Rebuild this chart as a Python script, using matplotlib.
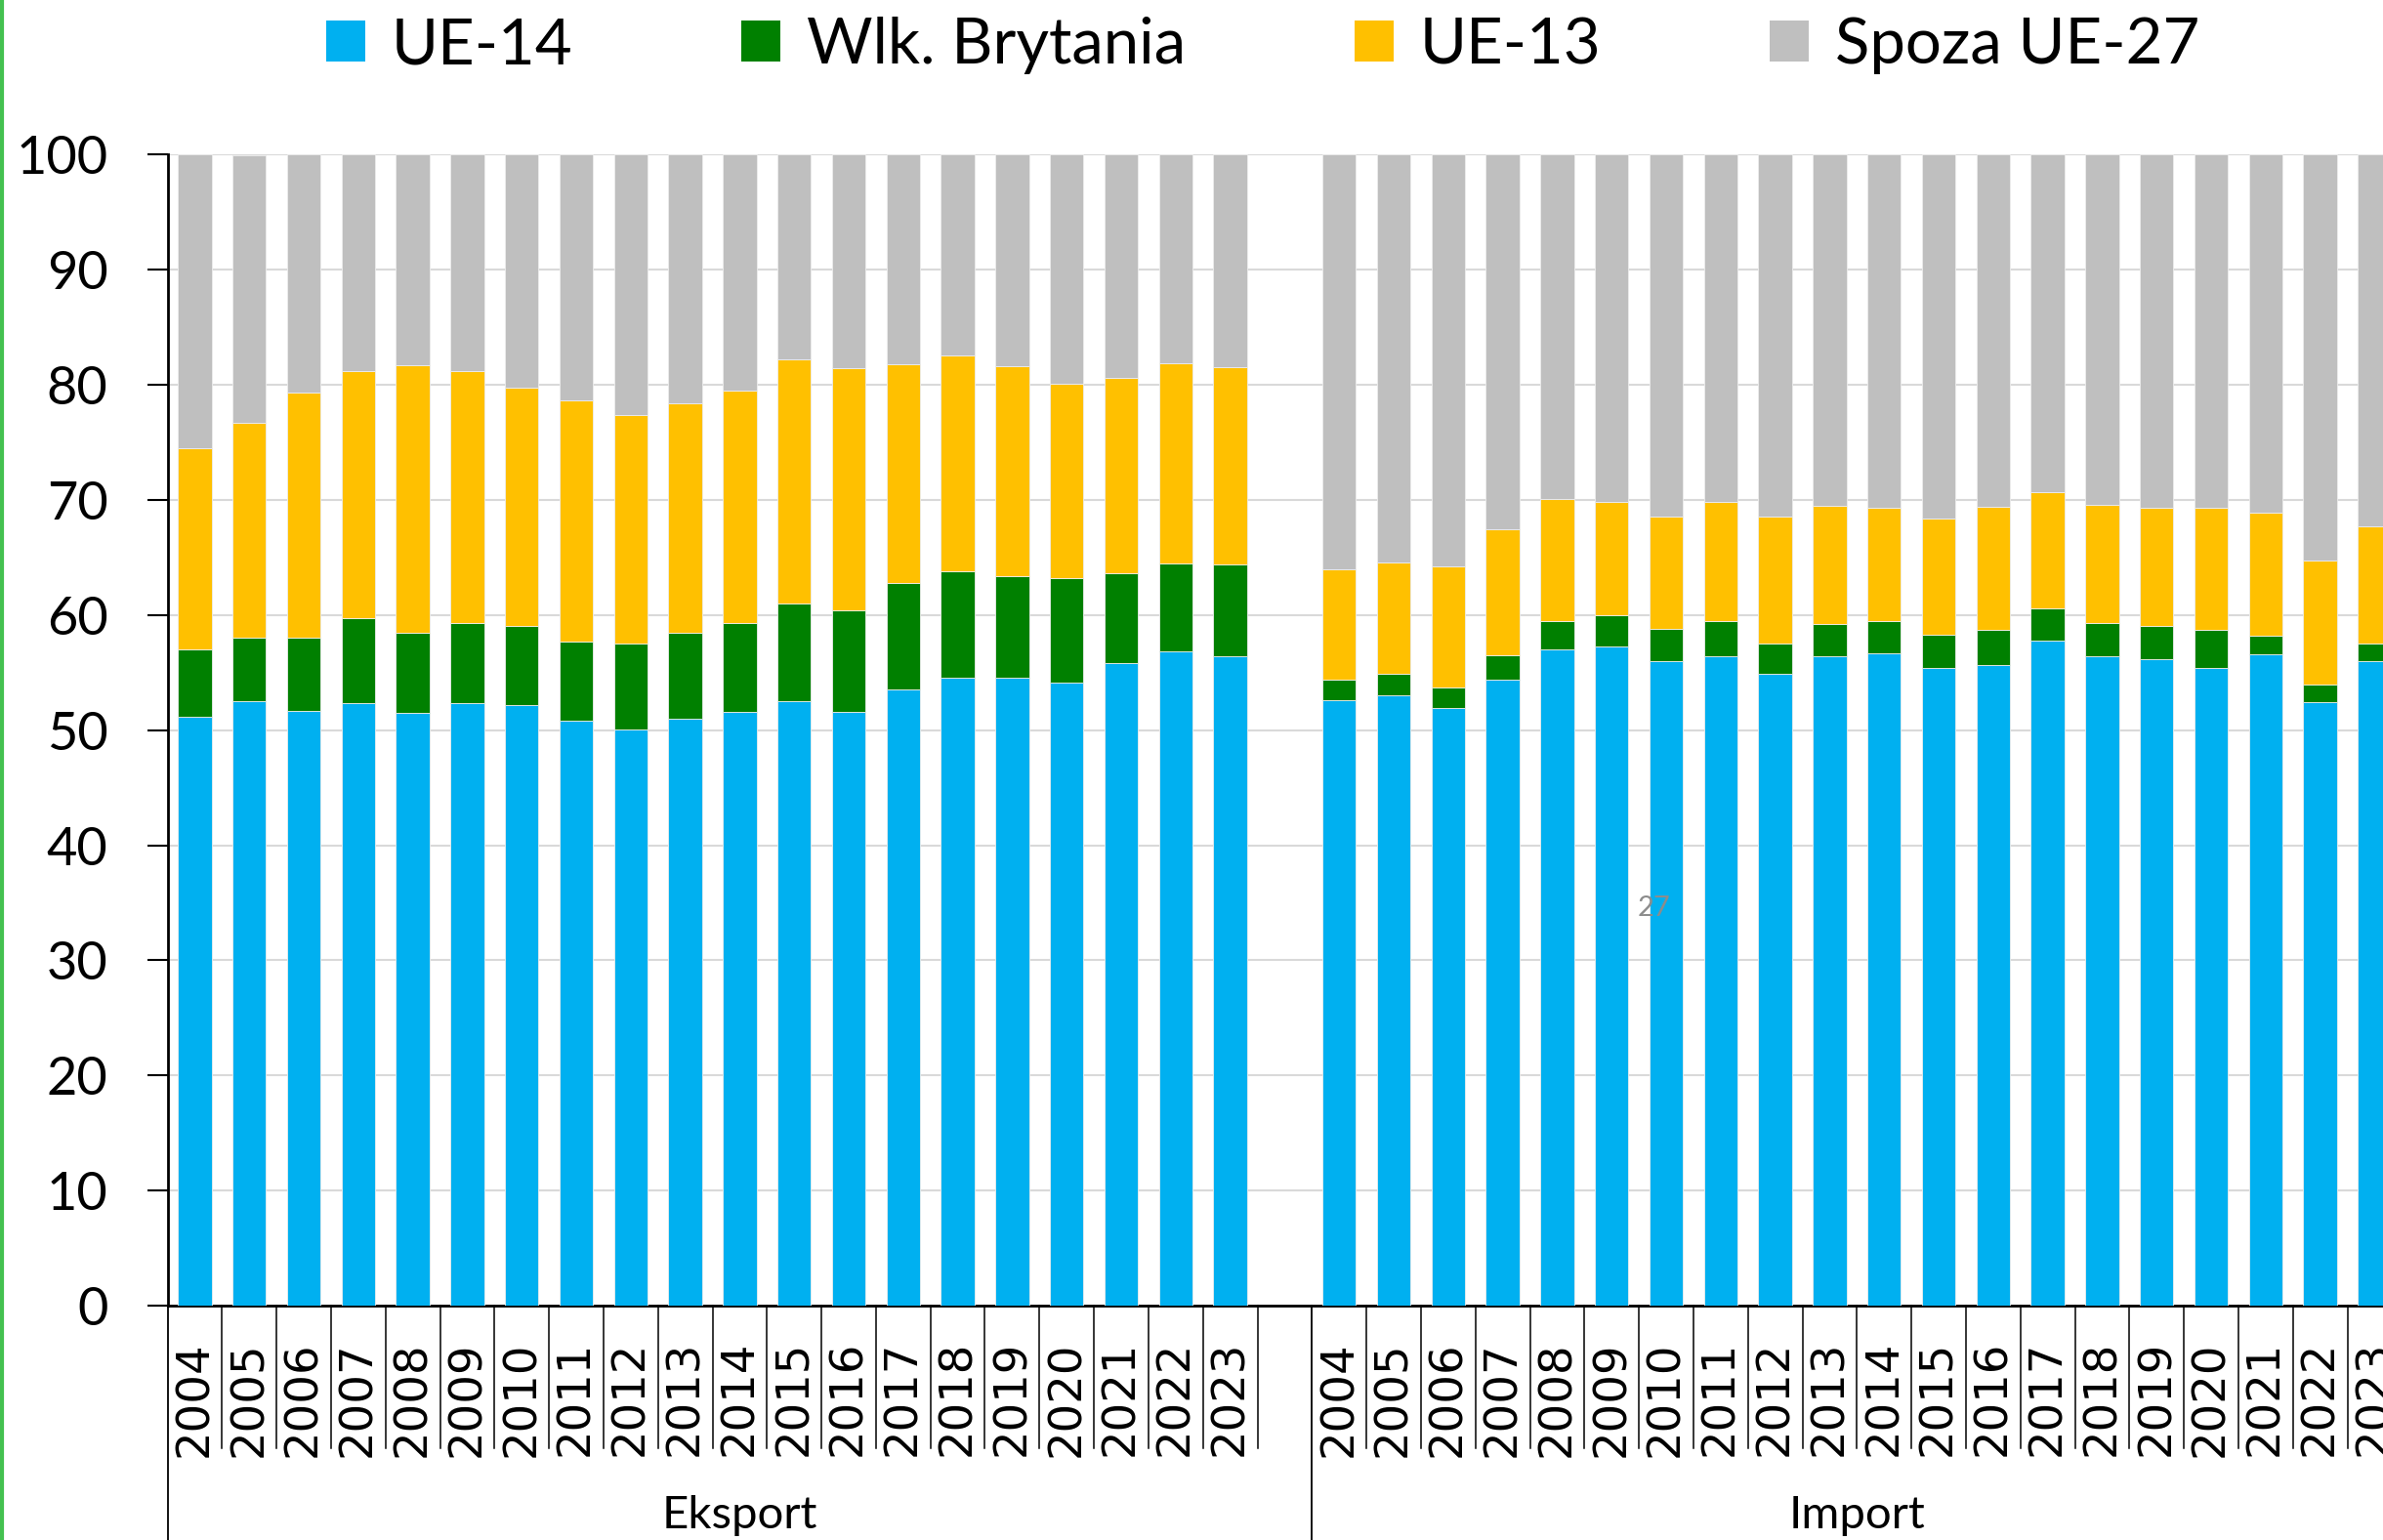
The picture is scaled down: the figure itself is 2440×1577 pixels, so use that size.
import numpy as np
import matplotlib
matplotlib.use("Agg")
import matplotlib.pyplot as plt
from matplotlib.lines import Line2D
from matplotlib.patches import Patch

# --- DATA (udział w %, odczyt z wykresu) ---
years = [str(y) for y in range(2004, 2024)]
groups = ["Eksport", "Import"]
series_names = ["UE-14", "Wlk. Brytania", "UE-13", "Spoza UE-27"]

eksport_ue14 = [51.2, 52.5, 51.7, 52.35, 51.5, 52.35, 52.2, 50.8, 50.1, 51.0,
                51.6, 52.5, 51.6, 53.55, 54.6, 54.6, 54.15, 55.8, 56.85, 56.4]
eksport_uk = [5.8, 5.55, 6.35, 7.35, 7.0, 6.95, 6.9, 6.9, 7.4, 7.5,
              7.7, 8.5, 8.8, 9.25, 9.2, 8.8, 9.05, 7.8, 7.65, 8.0]
eksport_ue13 = [17.5, 18.65, 21.25, 21.5, 23.2, 21.9, 20.7, 21.0, 19.9, 19.9,
                20.25, 21.2, 21.1, 19.0, 18.8, 18.2, 16.9, 17.0, 17.4, 17.15]
eksport_spoza = [25.5, 23.3, 20.7, 18.8, 18.3, 18.8, 20.2, 21.3, 22.6, 21.6,
                 20.45, 17.8, 18.5, 18.2, 17.4, 18.4, 19.9, 19.4, 18.1, 18.45]

import_ue14 = [52.57, 53.06, 51.9, 54.4, 57.0, 57.3, 56.0, 56.4, 54.9, 56.4,
               56.7, 55.4, 55.7, 57.8, 56.4, 56.15, 55.45, 56.6, 52.46, 56.0]
import_uk = [1.8, 1.85, 1.8, 2.1, 2.5, 2.7, 2.8, 3.1, 2.65, 2.8,
             2.8, 2.9, 3.0, 2.75, 2.95, 2.95, 3.25, 1.65, 1.5, 1.5]
import_ue13 = [9.65, 9.7, 10.5, 11.0, 10.6, 9.8, 9.8, 10.3, 11.0, 10.3,
               9.8, 10.1, 10.7, 10.15, 10.25, 10.25, 10.65, 10.65, 10.8, 10.2]
import_spoza = [36.0, 35.4, 35.8, 32.5, 29.9, 30.2, 31.4, 30.2, 31.45, 30.5,
                30.7, 31.6, 30.6, 29.3, 30.4, 30.65, 30.65, 31.1, 35.25, 32.3]

colors = ["#00B0F0", "#008000", "#FFC000", "#BFBFBF"]

# --- FIGURE ---
W, H = 2440, 1577
fig = plt.figure(figsize=(W / 100, H / 100), dpi=100)
plt.rcParams['font.family'] = ['Lato', 'DejaVu Sans']

x_left, x_step = 171.5, 55.8
y0_px, y100_px = 1337, 158.5
ax = fig.add_axes([x_left / W, 1 - y0_px / H, 41 * x_step / W, (y0_px - y100_px) / H])

n = len(years)
x_exp = np.arange(n)
x_imp = np.arange(n) + n + 1
x_all = np.concatenate([x_exp, x_imp])

stacks = [
    eksport_ue14 + import_ue14,
    eksport_uk + import_uk,
    eksport_ue13 + import_ue13,
    eksport_spoza + import_spoza,
]

bottom = np.zeros(len(x_all))
for name, vals, c in zip(series_names, stacks, colors):
    vals = np.array(vals)
    ax.bar(x_all, vals, width=0.62, bottom=bottom, color=c, edgecolor="#EDEDED",
           linewidth=0.6, zorder=3, label=name)
    bottom += vals

ax.set_xlim(-0.5, 2 * n + 0.5)
ax.set_ylim(0, 100)
ax.set_yticks(range(0, 101, 10))
ax.yaxis.grid(True, color="#D9D9D9", linewidth=1.5, zorder=0)
ax.set_axisbelow(True)
ax.tick_params(axis="y", length=15, width=1.5, pad=29, labelsize=39, color="black")

ax.set_xticks(x_all)
ax.set_xticklabels(years + years, rotation=90, family="DejaVu Sans", fontsize=33.5)
ax.tick_params(axis="x", length=0, pad=26)

for s in ["top", "right"]:
    ax.spines[s].set_visible(False)
ax.spines["bottom"].set_linewidth(2)
ax.spines["left"].set_linewidth(2)

# category separators below axis
trans = ax.get_xaxis_transform()
short_end = -(1483 - y0_px) / (y0_px - y100_px)
long_end = -(H - y0_px + 20) / (y0_px - y100_px)
for xb in list(np.arange(n) + 0.5) + list(np.arange(n + 1, 2 * n) + 0.5):
    ax.plot([xb, xb], [0, short_end], transform=trans, color="black", lw=1.1, clip_on=False)
for xb in [-0.5, n + 0.5]:
    ax.plot([xb, xb], [0, long_end], transform=trans, color="black", lw=1.3, clip_on=False)

# group labels (Eksport / Import) centred under their categories
exp_cx = x_left + (n + 1) / 2 * x_step
imp_cx = x_left + (n + 1) * x_step + n / 2 * x_step
fig.text(exp_cx / W, 1 - 1531 / H, groups[0], ha="center", va="top", fontsize=34)
fig.text(imp_cx / W, 1 - 1531 / H, groups[1], ha="center", va="top", fontsize=34)

# legend
handles = [Patch(facecolor=c, edgecolor="none") for c in colors]
fig.legend(handles, series_names, loc="center", bbox_to_anchor=(1293 / W, 1 - 46.5 / H),
           ncol=4, frameon=False, fontsize=47, handlelength=0.61, handleheight=0.61,
           handletextpad=0.41, columnspacing=2.65, borderpad=0)

# leftover page artefacts
fig.text(1693 / W, 1 - 930 / H, "27", color="#8C8C8C", fontsize=21, ha="center", va="center")
fig.add_artist(Line2D([2 / W, 2 / W], [0, 1], transform=fig.transFigure, color="#44C150", lw=3))

fig.savefig("out.png", dpi=100)
